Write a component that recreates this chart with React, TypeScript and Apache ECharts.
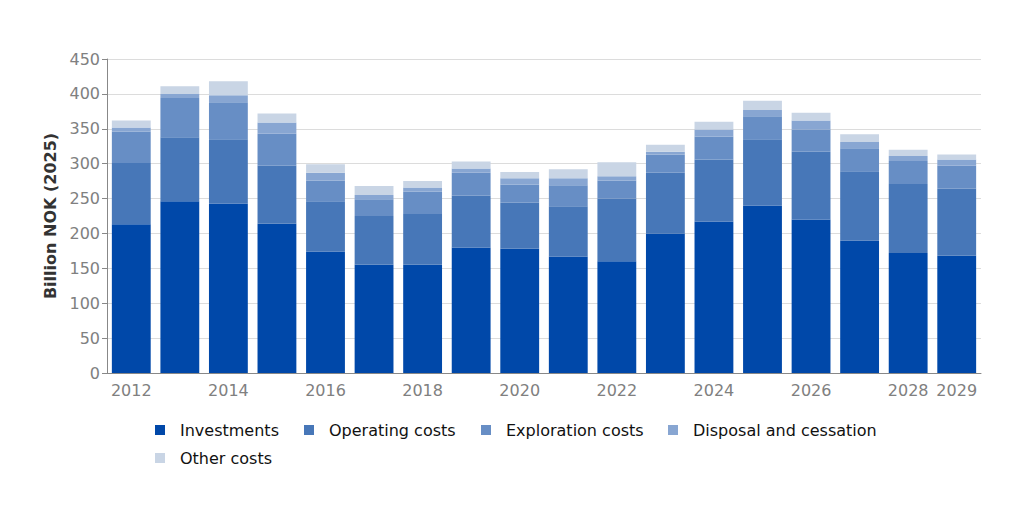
import React, { useEffect, useRef } from "react";
import * as echarts from "echarts";

const years = ["2012","2013","2014","2015","2016","2017","2018","2019","2020","2021","2022","2023","2024","2025","2026","2027","2028","2029"];
const investments = [213, 246, 243, 214, 174, 155, 155, 180, 178, 167, 160, 200, 217, 240, 220, 190, 172, 168];
const operatingCosts = [88, 92, 92, 83, 72, 70, 73, 74, 66, 72, 90, 87, 89, 95, 97, 99, 99, 96];
const explorationCosts = [45, 56, 53, 46, 30, 24, 32, 33, 26, 30, 26, 26, 33, 33, 32, 33, 33, 33];
const disposalCessation = [6, 6, 10, 16, 11, 6, 6, 6, 9, 10, 6, 4, 10, 9, 13, 9, 7, 9];
const otherCosts = [10, 11, 20, 13, 12, 13, 9, 10, 9, 13, 20, 10, 11, 13, 11, 11, 9, 7];

const seriesNames = ["Investments", "Operating costs", "Exploration costs", "Disposal and cessation", "Other costs"];
const seriesData = [investments, operatingCosts, explorationCosts, disposalCessation, otherCosts];
const colors = ["#0048A9", "#4777B8", "#678EC5", "#88A6D2", "#C9D5E5"];
const legendTextWidths = [116, 144, 154, 190, 110];

export default function App() {
  const ref = useRef<HTMLDivElement>(null);
  useEffect(() => {
    if (!ref.current) return;
    const chart = echarts.init(ref.current, undefined, { renderer: "svg" });
    const font = "DejaVu Sans";
    chart.setOption({
      animation: false,
      color: colors,
      textStyle: { fontFamily: font },
      grid: { left: 99, right: 35, top: 51, bottom: 129 },
      legend: {
        left: 142,
        top: 407,
        width: 780,
        itemWidth: 10,
        itemHeight: 10,
        itemGap: 8,
        icon: "rect",
        textStyle: { fontFamily: font, fontSize: 16, color: "#111", padding: [0, 0, 0, 10], lineHeight: 20 },
        data: seriesNames.map((name, i) => ({
          name,
          textStyle: { width: legendTextWidths[i], overflow: "none" },
        })),
      },
      xAxis: {
        type: "category",
        data: years,
        axisLine: { lineStyle: { color: "#888" } },
        axisTick: { interval: (i: number) => i % 2 === 0, length: 5, lineStyle: { color: "#888" } },
        axisLabel: {
          interval: (i: number) => i % 2 === 0 || i === 17,
          color: "#808080",
          fontSize: 16,
          fontFamily: font,
          margin: 9,
        },
      },
      yAxis: {
        type: "value",
        min: 0,
        max: 450,
        interval: 50,
        name: "Billion NOK (2025)",
        nameLocation: "middle",
        nameGap: 46,
        nameTextStyle: { fontFamily: font, fontSize: 16, fontWeight: "bold", color: "#333" },
        axisLine: { show: true, lineStyle: { color: "#888" } },
        axisTick: { show: true, length: 5, lineStyle: { color: "#888" } },
        axisLabel: { color: "#808080", fontSize: 16, fontFamily: font, margin: 7 },
        splitLine: { lineStyle: { color: "#dcdcdc" } },
      },
      series: seriesNames.map((name, i) => ({
        name,
        type: "bar",
        stack: "total",
        data: seriesData[i],
        barCategoryGap: "20%",
      })),
    });
    return () => chart.dispose();
  }, []);
  return <div ref={ref} style={{ width: 1008, height: 494 }} />;
}
